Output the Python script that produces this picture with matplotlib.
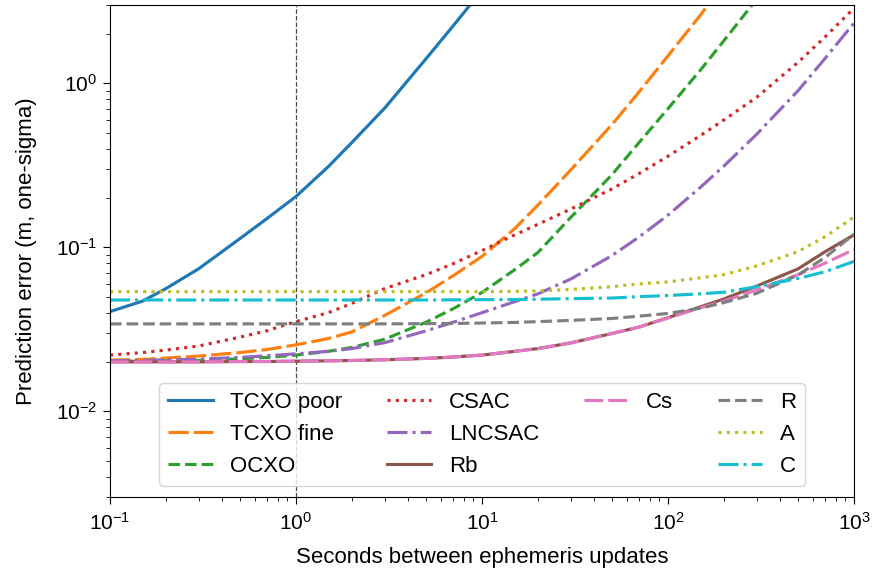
import numpy as np
import matplotlib
matplotlib.use("Agg")
import matplotlib.pyplot as plt
from matplotlib.lines import Line2D

plt.rcParams['font.family'] = ['Liberation Sans', 'DejaVu Sans']

nan = np.nan
# Seconds between ephemeris updates
x = [0.1, 0.15, 0.2, 0.3, 0.5, 0.7, 1, 1.5, 2, 3, 5, 7, 10, 15, 20, 30, 50, 70,
     100, 150, 200, 300, 500, 700, 1000]

tcxo_poor = [0.0405, 0.047, 0.056, 0.074, 0.113, 0.150, 0.204, 0.312, 0.436, 0.706,
             1.41, 2.24, 3.69, nan, nan, nan, nan, nan, nan, nan, nan, nan, nan, nan, nan]
tcxo_fine = [0.0205, 0.0207, 0.0211, 0.0217, 0.0228, 0.0238, 0.0254, 0.0278, 0.0305, 0.0384,
             0.0527, 0.067, 0.088, 0.130, 0.181, 0.296, 0.56, 0.887, 1.47, 2.62, 4.06,
             nan, nan, nan, nan]
ocxo = [0.0202, 0.0202, 0.0203, 0.0204, 0.0209, 0.0213, 0.0220, 0.0232, 0.0245, 0.0275,
        0.0349, 0.0422, 0.0530, 0.073, 0.093, 0.152, 0.277, 0.436, 0.70, 1.21, 1.82, 3.26,
        nan, nan, nan]
csac = [0.0220, 0.0228, 0.0236, 0.0250, 0.0283, 0.0310, 0.0352, 0.0400, 0.0455, 0.056,
        0.068, 0.0794, 0.0955, 0.119, 0.138, 0.171, 0.227, 0.282, 0.359, 0.481, 0.598,
        0.822, 1.34, 1.92, 2.87]
lncsac = [0.0203, 0.0204, 0.0206, 0.0208, 0.0213, 0.0218, 0.0224, 0.0232, 0.0241, 0.0262,
          0.0309, 0.0349, 0.0399, 0.0466, 0.052, 0.064, 0.089, 0.1156, 0.157, 0.233, 0.313,
          0.489, 0.90, 1.42, 2.33]
rb = [0.0200, 0.0200, 0.0200, 0.0200, 0.0201, 0.0201, 0.0202, 0.0203, 0.0204, 0.0206,
      0.0210, 0.0214, 0.0220, 0.0232, 0.0241, 0.0261, 0.0298, 0.0326, 0.0372, 0.0434,
      0.0484, 0.058, 0.0738, 0.094, 0.119]
cs = [0.0200, 0.0200, 0.0200, 0.0200, 0.0201, 0.0201, 0.0202, 0.0203, 0.0204, 0.0206,
      0.0210, 0.0214, 0.0220, 0.0232, 0.0241, 0.0261, 0.0298, 0.0326, 0.0370, 0.0428,
      0.047, 0.055, 0.068, 0.080, 0.097]
r_vals = [0.0341, 0.0341, 0.0341, 0.0341, 0.0341, 0.0341, 0.0341, 0.0341, 0.0341, 0.0341,
          0.0342, 0.0343, 0.0345, 0.0348, 0.0352, 0.0358, 0.0368, 0.0380, 0.0395, 0.0425,
          0.046, 0.0524, 0.0677, 0.0868, 0.120]
a_vals = [0.0536, 0.0536, 0.0536, 0.0536, 0.0536, 0.0536, 0.0536, 0.0536, 0.0536, 0.0536,
          0.0536, 0.0536, 0.0536, 0.0538, 0.0542, 0.0553, 0.0575, 0.0598, 0.0615, 0.0652,
          0.068, 0.077, 0.094, 0.116, 0.153]
c_vals = [0.0477, 0.0477, 0.0477, 0.0477, 0.0477, 0.0477, 0.0477, 0.0477, 0.0477, 0.0477,
          0.0477, 0.0478, 0.0479, 0.0480, 0.0482, 0.0486, 0.0490, 0.0500, 0.0508, 0.0520,
          0.0532, 0.0575, 0.0645, 0.071, 0.082]

labels = ["TCXO poor", "TCXO fine", "OCXO", "CSAC", "LNCSAC", "Rb", "Cs", "R", "A", "C"]
series = [tcxo_poor, tcxo_fine, ocxo, csac, lncsac, rb, cs, r_vals, a_vals, c_vals]
styles = ['-', (0, (6.5, 1.6)), '--', ':', '-.', '-', (0, (6, 1.6)), '--', ':', '-.']
colors = ['C0', 'C1', 'C2', 'C3', 'C4', 'C5', 'C6', 'C7', 'C8', 'C9']

fig = plt.figure(figsize=(8.73, 5.71), dpi=100)
ax = fig.add_axes([110/873, 1-497/571, (854-110)/873, (497-5)/571])

ax.axvline(1, color='0.3', lw=0.9, ls='--', zorder=1)

lines = []
for vals, lab, ls, c in zip(series, labels, styles, colors):
    ln, = ax.plot(x, vals, ls=ls, color=c, lw=2.25, label=lab)
    lines.append(ln)

ax.set_xscale('log')
ax.set_yscale('log')
ax.set_xlim(0.1, 1000)
ax.set_ylim(0.003, 3)
ax.set_xlabel('Seconds between ephemeris updates', fontsize=16, labelpad=9)
ax.set_ylabel('Prediction error (m, one-sigma)', fontsize=16, labelpad=14)
ax.tick_params(axis='x', which='major', labelsize=15, length=5, pad=6)
ax.tick_params(axis='y', which='major', labelsize=15, length=5, pad=4)
ax.tick_params(axis='both', which='minor', length=3)

blank = Line2D([], [], color='none')
handles = lines[:7] + [blank, blank] + lines[7:]
leg_labels = labels[:7] + ['', ''] + labels[7:]
ax.legend(handles, leg_labels, loc='lower center', ncol=4, fontsize=16)

fig.savefig('out.png', dpi=100)
